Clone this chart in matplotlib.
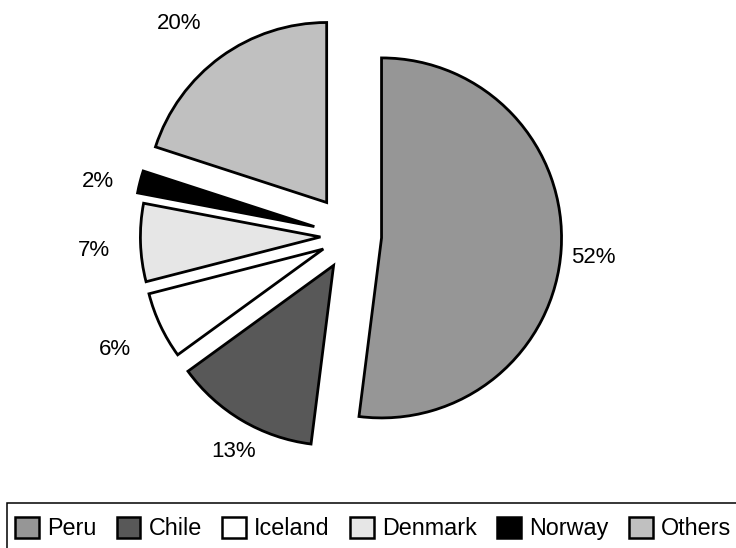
import numpy as np
import matplotlib
matplotlib.use('Agg')
import matplotlib.pyplot as plt
from matplotlib.patches import Patch, Rectangle

plt.rcParams['font.family'] = ['Liberation Sans', 'DejaVu Sans']

countries = ['Peru', 'Chile', 'Iceland', 'Denmark', 'Norway', 'Others']
shares = [52, 13, 6, 7, 2, 20]
labels = ['52%', '13%', '6%', '7%', '2%', '20%']
colors = ['#969696', '#585858', '#ffffff', '#e6e6e6', '#000000', '#c0c0c0']

explode = [0.17, 0.19, 0.17, 0.17, 0.21, 0.23]
label_dist = [1.18, 1.16, 1.28, 1.26, 1.23, 1.30]
label_turn = [-1, 2, 0, 1, 2, 3]   # degrees, small nudges of label angle

W, H = 736, 548
R = 180.0          # pie radius in pixels
CX, CY = 351, 236  # pie center in pixels (from top-left)

fig = plt.figure(figsize=(W / 100, H / 100), dpi=100)
ax = fig.add_axes([0, 0, 1, 1])
ax.axis('off')

wedges, _ = ax.pie(shares, colors=colors, explode=explode, startangle=90,
                   counterclock=False, radius=1.0,
                   wedgeprops=dict(edgecolor='black', linewidth=2.0))

ax.set_xlim(-CX / R, (W - CX) / R)
ax.set_ylim((CY - H) / R, CY / R)
ax.set_aspect('equal')

for w, lab, d, t in zip(wedges, labels, label_dist, label_turn):
    mid = np.deg2rad((w.theta1 + w.theta2) / 2 + t)
    cx, cy = w.center
    ax.annotate(lab, (cx + d * np.cos(mid), cy + d * np.sin(mid)),
                xytext=(0, -5.8), textcoords='offset points',
                ha='center', va='baseline', fontsize=16)

# legend frame, runs off the right and bottom edges like the original
fig.patches.append(Rectangle((7 / W, -0.2), 1.2, 0.2 + 1 - 503 / H,
                             transform=fig.transFigure, fill=False,
                             edgecolor='black', linewidth=1.1))

handles = [Patch(facecolor=c, edgecolor='black', linewidth=1.8) for c in colors]
leg = fig.legend(handles, countries, loc='upper left',
                 bbox_to_anchor=(15 / W, 1 - 517 / H), ncol=6,
                 fontsize=16.8, frameon=False,
                 handlelength=1.02, handleheight=1.0, handletextpad=0.35,
                 columnspacing=0.87, borderpad=0, borderaxespad=0)

fig.savefig('out.png', dpi=100)
